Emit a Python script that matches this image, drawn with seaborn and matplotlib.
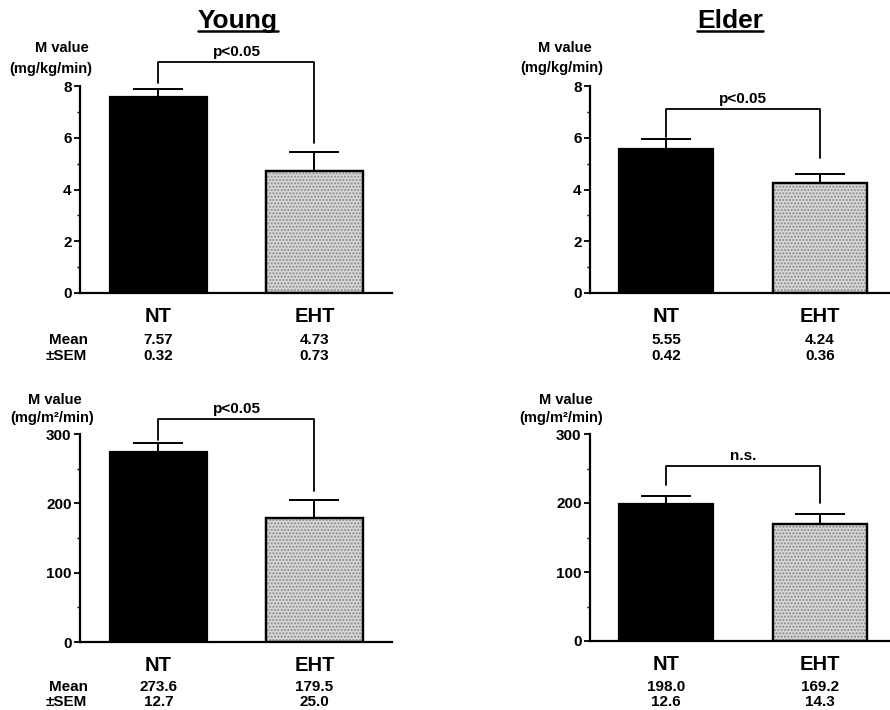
import matplotlib
matplotlib.use('Agg')
import matplotlib.pyplot as plt
import matplotlib.transforms as mtransforms
from matplotlib.patches import Rectangle
from matplotlib.lines import Line2D
from matplotlib.ticker import MultipleLocator
import seaborn as sns
import pandas as pd

# ---------------- data ----------------
groups = ['NT', 'EHT']
young_kg_mean = [7.57, 4.73]
young_kg_sem = [0.32, 0.73]
elder_kg_mean = [5.55, 4.24]
elder_kg_sem = [0.42, 0.36]
young_m2_mean = [273.6, 179.5]
young_m2_sem = [12.7, 25.0]
elder_m2_mean = [198.0, 169.2]
elder_m2_sem = [12.6, 14.3]
young_kg_sig = 'p<0.05'
elder_kg_sig = 'p<0.05'
young_m2_sig = 'p<0.05'
elder_m2_sig = 'n.s.'
titles = ['Young', 'Elder']
unit_kg = '(mg/kg/min)'
unit_m2 = '(mg/m\u00b2/min)'
ylabel_top = 'M value'
row_labels = ['Mean', '\u00b1SEM']

# ---------------- style ----------------
sns.set_style('white')
plt.rcParams['font.family'] = ['Liberation Sans', 'DejaVu Sans']
plt.rcParams['font.weight'] = 'bold'
plt.rcParams['text.color'] = 'black'
plt.rcParams['axes.labelcolor'] = 'black'
plt.rcParams['xtick.color'] = 'black'
plt.rcParams['ytick.color'] = 'black'

W, H = 890, 710
fig = plt.figure(figsize=(W / 100, H / 100), dpi=100)


def fx(px):
    return px / W


def fy(py):
    return 1 - py / H


BAR_COLORS = ['#000000', '#d6d6d6']

panels = [
    dict(mean=young_kg_mean, sem=young_kg_sem, sig=young_kg_sig, unit=unit_kg, fmt='{:.2f}',
         rect=[fx(80), fy(293), 312 / W, 207 / H], xlim=(-0.503, 1.497), ylim=(0, 8),
         major=2, minor=1, bracket=(8.93, 8.1, 5.8), lab=((62, 48), (51, 69)),
         rows=(340, 356), rowlab=True, width=0.62),
    dict(mean=elder_kg_mean, sem=elder_kg_sem, sig=elder_kg_sig, unit=unit_kg, fmt='{:.2f}',
         rect=[fx(590), fy(293), 300 / W, 207 / H], xlim=(-0.494, 1.455), ylim=(0, 8),
         major=2, minor=1, bracket=(7.11, 6.03, 5.22), lab=((565, 48), (562, 68)),
         rows=(340, 356), rowlab=False, width=0.61),
    dict(mean=young_m2_mean, sem=young_m2_sem, sig=young_m2_sig, unit=unit_m2, fmt='{:.1f}',
         rect=[fx(80), fy(642), 312 / W, 208 / H], xlim=(-0.503, 1.497), ylim=(0, 300),
         major=100, minor=50, bracket=(321.7, 291.4, 218), lab=((55, 400), (52, 418)),
         rows=(687, 702), rowlab=True, width=0.62),
    dict(mean=elder_m2_mean, sem=elder_m2_sem, sig=elder_m2_sig, unit=unit_m2, fmt='{:.1f}',
         rect=[fx(590), fy(641), 300 / W, 207 / H], xlim=(-0.494, 1.455), ylim=(0, 300),
         major=100, minor=50, bracket=(253.6, 226, 200), lab=((566, 400), (561, 418)),
         rows=(687, 702), rowlab=False, width=0.61),
]

for p in panels:
    ax = fig.add_axes(p['rect'])
    df = pd.DataFrame({'group': groups, 'mean': p['mean'], 'sem': p['sem']})
    sns.barplot(data=df, x='group', y='mean', hue='group', palette=BAR_COLORS,
                legend=False, width=p['width'], edgecolor='black', linewidth=1.6,
                errorbar=None, ax=ax, zorder=2)
    # stipple texture on the EHT bar
    bars = list(ax.patches)
    for bar, col in zip(bars, BAR_COLORS):
        if col != '#000000':
            tex = Rectangle(bar.get_xy(), bar.get_width(), bar.get_height(),
                            facecolor='none', edgecolor='#8a8a8a', hatch='.....',
                            linewidth=0, zorder=2.5)
            ax.add_patch(tex)
            outline = Rectangle(bar.get_xy(), bar.get_width(), bar.get_height(),
                                facecolor='none', edgecolor='black', linewidth=1.6, zorder=2.6)
            ax.add_patch(outline)
    # SEM error bars (upper only)
    ax.errorbar(x=[0, 1], y=df['mean'], yerr=[[0, 0], df['sem']], fmt='none',
                ecolor='black', elinewidth=1.4, capsize=18, capthick=1.4, zorder=3)
    # significance bracket
    top, lend, rend = p['bracket']
    ax.plot([0, 0, 1, 1], [lend, top, top, rend], color='black', lw=1.3,
            clip_on=False, zorder=3)
    ax.annotate(p['sig'], xy=(0.5, top), xytext=(0, 7.5), textcoords='offset points',
                ha='center', va='center', fontsize=11, annotation_clip=False)

    ax.set_xlim(*p['xlim'])
    ax.set_ylim(*p['ylim'])
    ax.yaxis.set_major_locator(MultipleLocator(p['major']))
    ax.yaxis.set_minor_locator(MultipleLocator(p['minor']))
    ax.tick_params(axis='y', which='major', direction='out', length=4, width=1.3,
                   labelsize=11, pad=2, left=True)
    ax.tick_params(axis='y', which='minor', direction='out', length=2.5, width=1.0, left=True)
    ax.tick_params(axis='x', length=0, pad=10, labelsize=14.5)
    ax.set_xlabel('')
    ax.set_ylabel('')
    sns.despine(ax=ax)
    for s in ('left', 'bottom'):
        ax.spines[s].set_linewidth(1.6)
        ax.spines[s].set_color('black')

    # y-axis label (horizontal, above axis)
    (x1, y1), (x2, y2) = p['lab']
    fig.text(fx(x1), fy(y1), ylabel_top, ha='center', va='center', fontsize=10.5)
    fig.text(fx(x2), fy(y2), p['unit'], ha='center', va='center', fontsize=10.5)

    # mean / SEM rows
    trans = mtransforms.blended_transform_factory(ax.transData, fig.transFigure)
    ry1, ry2 = p['rows']
    for i in range(len(groups)):
        ax.text(i, fy(ry1), p['fmt'].format(p['mean'][i]), transform=trans,
                ha='center', va='center', fontsize=11)
        ax.text(i, fy(ry2), p['fmt'].format(p['sem'][i]), transform=trans,
                ha='center', va='center', fontsize=11)
    if p['rowlab']:
        fig.text(fx(68), fy(ry1), row_labels[0], ha='center', va='center', fontsize=11)
        fig.text(fx(66), fy(ry2), row_labels[1], ha='center', va='center', fontsize=11)

# titles with underline
title_pos = [(238, 21), (730, 21)]
renderer = fig.canvas.get_renderer()
for t, (tx, ty) in zip(titles, title_pos):
    txt = fig.text(fx(tx), fy(ty), t, ha='center', va='center', fontsize=19)
    bb = txt.get_window_extent(renderer=renderer).transformed(fig.transFigure.inverted())
    fig.add_artist(Line2D([bb.x0, bb.x1], [bb.y0 + 0.003, bb.y0 + 0.003],
                          transform=fig.transFigure, color='black', lw=1.8))

fig.savefig('out.png', dpi=100)
